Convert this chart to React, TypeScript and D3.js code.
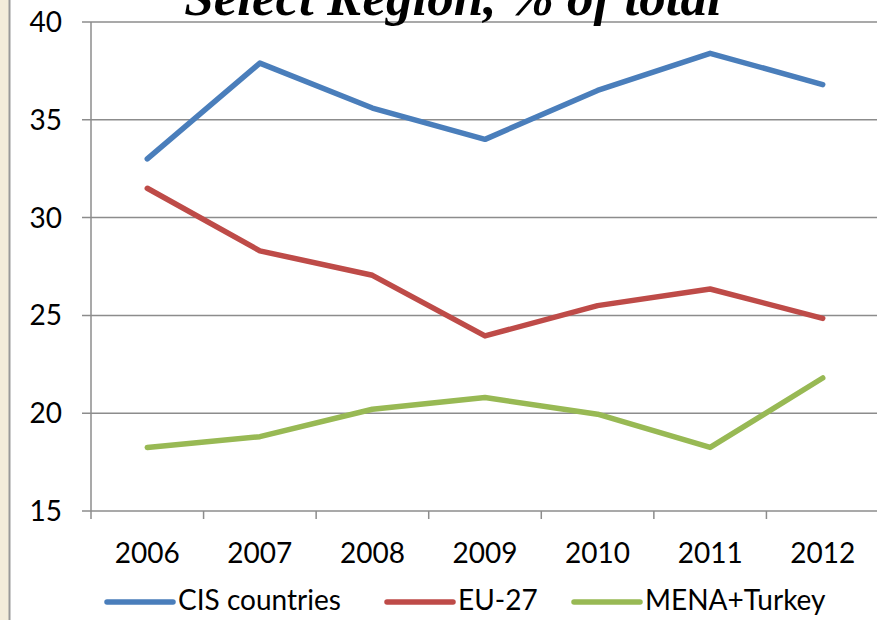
import React, { useEffect, useRef } from 'react';
import * as d3 from 'd3';

const years = ['2006', '2007', '2008', '2009', '2010', '2011', '2012'];
const cis = [33.0, 37.9, 35.6, 34.0, 36.5, 38.4, 36.8];
const eu27 = [31.5, 28.3, 27.05, 23.95, 25.5, 26.35, 24.85];
const mena = [18.25, 18.8, 20.2, 20.8, 19.95, 18.25, 21.8];
const yTicks = [15, 20, 25, 30, 35, 40];

const seriesNames = ['CIS countries', 'EU-27', 'MENA+Turkey'];
const seriesColors = ['#4a7ebb', '#be4b48', '#98b954'];

const W = 877;
const H = 620;
const font = 'Lato, "Open Sans", sans-serif';
const fontSize = 28;

export default function App() {
  const ref = useRef<SVGSVGElement>(null);

  useEffect(() => {
    const svg = d3.select(ref.current);
    svg.selectAll('*').remove();

    // page strip on the left
    svg.append('rect').attr('x', 0).attr('y', 0).attr('width', 9).attr('height', H).attr('fill', '#f3ecda');
    svg.append('line').attr('x1', 9.5).attr('x2', 9.5).attr('y1', 0).attr('y2', H)
      .attr('stroke', '#999').attr('stroke-width', 2);

    const x = d3.scaleBand().domain(years).range([91, 879]);
    const y = d3.scaleLinear().domain([15, 40]).range([511, 22]);

    // gridlines
    svg.selectAll('grid')
      .data(yTicks)
      .enter()
      .append('line')
      .attr('x1', 82)
      .attr('x2', W)
      .attr('y1', d => y(d))
      .attr('y2', d => y(d))
      .attr('stroke', '#8c8c8c')
      .attr('stroke-width', 1.5);

    // y axis line
    svg.append('line').attr('x1', 91).attr('x2', 91).attr('y1', y(40)).attr('y2', y(15) + 8)
      .attr('stroke', '#8c8c8c').attr('stroke-width', 1.5);

    // x ticks
    svg.selectAll('xticks')
      .data(years.slice(1))
      .enter()
      .append('line')
      .attr('x1', d => x(d)!)
      .attr('x2', d => x(d)!)
      .attr('y1', y(15))
      .attr('y2', y(15) + 8)
      .attr('stroke', '#8c8c8c')
      .attr('stroke-width', 1.5);

    svg.selectAll('ylabels')
      .data(yTicks)
      .enter()
      .append('text')
      .attr('x', 62)
      .attr('y', d => y(d) + 10)
      .attr('text-anchor', 'end')
      .attr('font-family', font)
      .attr('font-size', fontSize)
      .attr('fill', '#000')
      .text(d => d);

    svg.selectAll('xlabels')
      .data(years)
      .enter()
      .append('text')
      .attr('x', d => x(d)! + x.bandwidth() / 2)
      .attr('y', 563)
      .attr('text-anchor', 'middle')
      .attr('font-family', font)
      .attr('font-size', fontSize)
      .attr('fill', '#000')
      .text(d => d);

    const line = d3.line<number>()
      .x((d, i) => x(years[i])! + x.bandwidth() / 2)
      .y(d => y(d));

    [cis, eu27, mena].forEach((s, i) => {
      svg.append('path')
        .attr('d', line(s))
        .attr('fill', 'none')
        .attr('stroke', seriesColors[i])
        .attr('stroke-width', 5.5)
        .attr('stroke-linejoin', 'round')
        .attr('stroke-linecap', 'round');
    });

    // legend
    const legendX = [107, 387, 574];
    seriesNames.forEach((name, i) => {
      svg.append('line')
        .attr('x1', legendX[i])
        .attr('x2', legendX[i] + 66)
        .attr('y1', 602)
        .attr('y2', 602)
        .attr('stroke', seriesColors[i])
        .attr('stroke-width', 5.5)
        .attr('stroke-linecap', 'round');
      svg.append('text')
        .attr('x', legendX[i] + 71)
        .attr('y', 610)
        .attr('font-family', font)
        .attr('font-size', fontSize)
        .attr('fill', '#000')
        .text(name);
    });

    // title, partly cut off at the top
    svg.append('text')
      .attr('x', 453)
      .attr('y', 15)
      .attr('text-anchor', 'middle')
      .attr('font-family', '"Liberation Serif", serif')
      .attr('font-weight', 'bold')
      .attr('font-style', 'italic')
      .attr('font-size', 53)
      .attr('fill', '#000')
      .text('Select Region, % of total');
  }, []);

  return (
    <svg ref={ref} width={W} height={H} style={{ position: 'absolute', left: 0, top: 0, background: '#fff' }} />
  );
}
